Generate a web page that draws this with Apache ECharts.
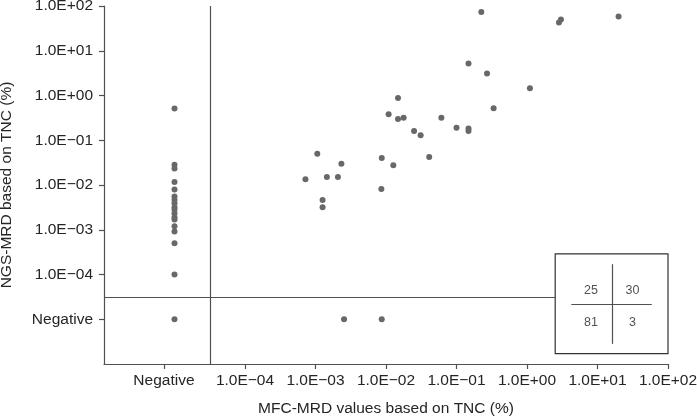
<!DOCTYPE html>
<html>
<head>
<meta charset="utf-8">
<script src="https://cdn.jsdelivr.net/npm/echarts@6/dist/echarts.min.js"></script>
<style>
  html, body { margin: 0; padding: 0; background: #fff; }
  #chart { width: 697px; height: 419px; }
</style>
</head>
<body>
<div id="chart"></div>
<script>
// MRD values in %, null = Negative
const NEG = null;
// [MFC-MRD %, NGS-MRD %] for both-positive cases
const bothPositive = [
  [0.00106, 0.050], [0.00233, 0.030], [0.00072, 0.0135], [0.00145, 0.0151],
  [0.00208, 0.0151], [0.00126, 0.0046], [0.00126, 0.0032], [0.0087, 0.040],
  [0.0127, 0.0275], [0.0086, 0.0081], [0.041, 0.042], [0.0148, 0.88],
  [0.0109, 0.38], [0.0148, 0.30], [0.0178, 0.32], [0.061, 0.32],
  [0.025, 0.16], [0.031, 0.13], [0.100, 0.19], [0.148, 0.183],
  [0.148, 0.16], [0.336, 0.52], [0.148, 5.2], [0.271, 3.1],
  [1.10, 1.46], [0.225, 73], [3.03, 50], [2.84, 43], [19.9, 58]
];
// NGS-MRD % where MFC is negative
const mfcNegNgs = [0.51, 0.0285, 0.0234, 0.0117, 0.0079, 0.0055, 0.0046, 0.0039,
  0.0032, 0.0028, 0.0023, 0.0019, 0.0017, 0.0012, 0.00091, 0.0005, 0.0001, NEG];
// MFC-MRD % where NGS is negative
const ngsNegMfc = [0.00254, 0.0087];

// 2x2 table counts
const tableCounts = [['25', '30'], ['81', '3']];

const xTicks = [-5.15, -4, -3, -2, -1, 0, 1, 2];
const yTicks = [-5, -4, -3, -2, -1, 0, 1, 2];

const toExp = v => (v === NEG ? -5 : Math.log10(v));
const expLabel = e => {
  const n = Math.round(e);
  const s = String(Math.abs(n)).padStart(2, '0');
  return '1.0E' + (n < 0 ? '\u2212' : '+') + s;
};

const points = [];
bothPositive.forEach(p => points.push([toExp(p[0]), toExp(p[1])]));
mfcNegNgs.forEach(v => points.push([toExp(NEG), toExp(v)]));
ngsNegMfc.forEach(v => points.push([toExp(v), toExp(NEG)]));

const FONT = "'Liberation Sans', Arial, sans-serif";
const TEXT = '#252525';
const LINE = '#505050';

// table box position, in axis units
const box = { x0: 0.40, x1: 2, y0: -5.77, y1: -3.54 };
const cross = { cx: 1.204, cy: -4.66, x0: 0.628, x1: 1.77, y0: -5.55, y1: -3.77 };
const cellPos = [[[0.908, -4.35], [1.495, -4.35]], [[0.908, -5.08], [1.495, -5.08]]];
const tableLabels = [];
tableCounts.forEach((row, i) => row.forEach((t, j) => {
  tableLabels.push([cellPos[i][j][0], cellPos[i][j][1], t]);
}));

const chart = echarts.init(document.getElementById('chart'));
chart.setOption({
  animation: false,
  backgroundColor: '#fff',
  grid: { left: 104, right: 29, top: 6, bottom: 55, outerBoundsMode: 'none', containLabel: false },
  xAxis: {
    type: 'value',
    min: -6,
    max: 2,
    name: 'MFC-MRD values based on TNC (%)',
    nameLocation: 'middle',
    nameGap: 37,
    nameTextStyle: { color: TEXT, fontSize: 15.5, fontFamily: FONT },
    axisLine: { onZero: false, lineStyle: { color: LINE, width: 1.2 } },
    axisTick: { customValues: xTicks, length: 5, lineStyle: { color: LINE, width: 1.2 } },
    axisLabel: {
      customValues: xTicks,
      margin: 9,
      color: TEXT,
      fontSize: 15.5,
      fontFamily: FONT,
      formatter: v => (v < -4.5 ? 'Negative' : expLabel(v))
    },
    splitLine: { show: false }
  },
  yAxis: {
    type: 'value',
    min: -6,
    max: 2,
    name: 'NGS-MRD based on TNC (%)',
    nameLocation: 'middle',
    nameGap: 89,
    nameTextStyle: { color: TEXT, fontSize: 15.5, fontFamily: FONT },
    axisLine: { show: true, onZero: false, lineStyle: { color: LINE, width: 1.2 } },
    axisTick: { show: true, customValues: yTicks, length: 5, lineStyle: { color: LINE, width: 1.2 } },
    axisLabel: {
      customValues: yTicks,
      margin: 11,
      color: TEXT,
      fontSize: 15.5,
      fontFamily: FONT,
      formatter: v => (v < -4.5 ? 'Negative' : expLabel(v))
    },
    splitLine: { show: false }
  },
  series: [
    {
      type: 'scatter',
      symbolSize: 6,
      itemStyle: { color: '#686868', opacity: 1 },
      data: points,
      z: 3,
      markLine: {
        silent: true,
        symbol: 'none',
        label: { show: false },
        lineStyle: { color: LINE, width: 1.2, type: 'solid' },
        data: [
          [{ coord: [-4.5, -6] }, { coord: [-4.5, 2] }],
          [{ coord: [-6, -4.5] }, { coord: [box.x0, -4.5] }],
          [{ coord: [cross.cx, cross.y0] }, { coord: [cross.cx, cross.y1] }],
          [{ coord: [cross.x0, cross.cy] }, { coord: [cross.x1, cross.cy] }]
        ]
      },
      markArea: {
        silent: true,
        itemStyle: { color: 'rgba(255,255,255,0)', borderColor: '#333', borderWidth: 1.2 },
        data: [[{ coord: [box.x0, box.y1] }, { coord: [box.x1, box.y0] }]]
      }
    },
    {
      type: 'scatter',
      symbolSize: 0,
      silent: true,
      data: tableLabels,
      label: {
        show: true,
        position: 'inside',
        color: TEXT,
        fontSize: 12.5,
        fontFamily: FONT,
        formatter: p => p.data[2]
      }
    }
  ]
});
</script>
</body>
</html>
